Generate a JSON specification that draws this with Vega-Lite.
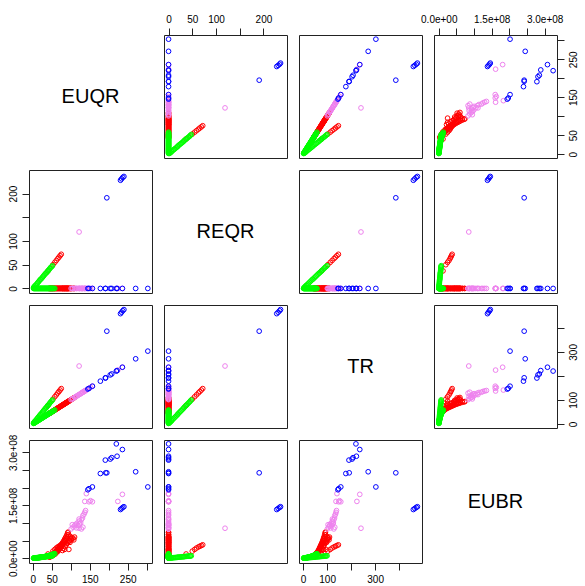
{
"$schema":"https://vega.github.io/schema/vega-lite/v6.json",
"background":"white",
"padding":{"left":7,"top":13,"right":5,"bottom":5},
"datasets":{"pts":[
{"grp":"red","EUQR":42,"REQR":0,"TR":42,"EUBR":4000000},
{"grp":"red","EUQR":44,"REQR":0,"TR":44,"EUBR":6000000},
{"grp":"red","EUQR":45,"REQR":0,"TR":45,"EUBR":3000000},
{"grp":"red","EUQR":46,"REQR":0,"TR":46,"EUBR":8000000},
{"grp":"red","EUQR":47,"REQR":0,"TR":47,"EUBR":5000000},
{"grp":"red","EUQR":48,"REQR":0,"TR":48,"EUBR":7000000},
{"grp":"red","EUQR":49,"REQR":0,"TR":49,"EUBR":10000000},
{"grp":"red","EUQR":50,"REQR":0,"TR":50,"EUBR":6000000},
{"grp":"red","EUQR":51,"REQR":0,"TR":51,"EUBR":9000000},
{"grp":"red","EUQR":52,"REQR":0,"TR":52,"EUBR":12000000},
{"grp":"red","EUQR":53,"REQR":0,"TR":53,"EUBR":8000000},
{"grp":"red","EUQR":54,"REQR":0,"TR":54,"EUBR":11000000},
{"grp":"red","EUQR":55,"REQR":0,"TR":55,"EUBR":14000000},
{"grp":"red","EUQR":56,"REQR":0,"TR":56,"EUBR":10000000},
{"grp":"red","EUQR":57,"REQR":0,"TR":57,"EUBR":13000000},
{"grp":"red","EUQR":58,"REQR":0,"TR":58,"EUBR":16000000},
{"grp":"red","EUQR":59,"REQR":0,"TR":59,"EUBR":12000000},
{"grp":"red","EUQR":60,"REQR":0,"TR":60,"EUBR":18000000},
{"grp":"red","EUQR":61,"REQR":0,"TR":61,"EUBR":15000000},
{"grp":"red","EUQR":62,"REQR":0,"TR":62,"EUBR":20000000},
{"grp":"red","EUQR":63,"REQR":0,"TR":63,"EUBR":17000000},
{"grp":"red","EUQR":64,"REQR":0,"TR":64,"EUBR":22000000},
{"grp":"red","EUQR":65,"REQR":0,"TR":65,"EUBR":19000000},
{"grp":"red","EUQR":66,"REQR":0,"TR":66,"EUBR":25000000},
{"grp":"red","EUQR":67,"REQR":0,"TR":67,"EUBR":21000000},
{"grp":"red","EUQR":68,"REQR":0,"TR":68,"EUBR":28000000},
{"grp":"red","EUQR":69,"REQR":0,"TR":69,"EUBR":24000000},
{"grp":"red","EUQR":70,"REQR":0,"TR":70,"EUBR":31000000},
{"grp":"red","EUQR":71,"REQR":0,"TR":71,"EUBR":27000000},
{"grp":"red","EUQR":72,"REQR":0,"TR":72,"EUBR":34000000},
{"grp":"red","EUQR":73,"REQR":0,"TR":73,"EUBR":30000000},
{"grp":"red","EUQR":74,"REQR":0,"TR":74,"EUBR":37000000},
{"grp":"red","EUQR":75,"REQR":0,"TR":75,"EUBR":33000000},
{"grp":"red","EUQR":76,"REQR":0,"TR":76,"EUBR":40000000},
{"grp":"red","EUQR":77,"REQR":0,"TR":77,"EUBR":36000000},
{"grp":"red","EUQR":78,"REQR":0,"TR":78,"EUBR":43000000},
{"grp":"red","EUQR":79,"REQR":0,"TR":79,"EUBR":39000000},
{"grp":"red","EUQR":80,"REQR":0,"TR":80,"EUBR":46000000},
{"grp":"red","EUQR":81,"REQR":0,"TR":81,"EUBR":42000000},
{"grp":"red","EUQR":82,"REQR":0,"TR":82,"EUBR":50000000},
{"grp":"red","EUQR":83,"REQR":0,"TR":83,"EUBR":45000000},
{"grp":"red","EUQR":84,"REQR":0,"TR":84,"EUBR":54000000},
{"grp":"red","EUQR":85,"REQR":0,"TR":85,"EUBR":48000000},
{"grp":"red","EUQR":86,"REQR":0,"TR":86,"EUBR":58000000},
{"grp":"red","EUQR":87,"REQR":0,"TR":87,"EUBR":52000000},
{"grp":"red","EUQR":88,"REQR":0,"TR":88,"EUBR":62000000},
{"grp":"red","EUQR":89,"REQR":0,"TR":89,"EUBR":56000000},
{"grp":"red","EUQR":90,"REQR":0,"TR":90,"EUBR":67000000},
{"grp":"red","EUQR":91,"REQR":0,"TR":91,"EUBR":60000000},
{"grp":"red","EUQR":92,"REQR":0,"TR":92,"EUBR":72000000},
{"grp":"red","EUQR":93,"REQR":0,"TR":93,"EUBR":74000000},
{"grp":"red","EUQR":95,"REQR":0,"TR":95,"EUBR":25000000},
{"grp":"red","EUQR":97,"REQR":0,"TR":97,"EUBR":50000000},
{"grp":"red","EUQR":100,"REQR":0,"TR":100,"EUBR":55000000},
{"grp":"red","EUQR":103,"REQR":0,"TR":103,"EUBR":58000000},
{"grp":"red","EUQR":106,"REQR":0,"TR":106,"EUBR":57000000},
{"grp":"red","EUQR":110,"REQR":0,"TR":110,"EUBR":60000000},
{"grp":"red","EUQR":108,"REQR":0,"TR":108,"EUBR":52000000},
{"grp":"red","EUQR":99,"REQR":0,"TR":99,"EUBR":62000000},
{"grp":"red","EUQR":94,"REQR":0,"TR":94,"EUBR":66000000},
{"grp":"red","EUQR":80,"REQR":0,"TR":80,"EUBR":28000000},
{"grp":"red","EUQR":85,"REQR":0,"TR":85,"EUBR":33000000},
{"grp":"red","EUQR":88,"REQR":0,"TR":88,"EUBR":38000000},
{"grp":"red","EUQR":90,"REQR":0,"TR":90,"EUBR":42000000},
{"grp":"red","EUQR":84,"REQR":0,"TR":84,"EUBR":25000000},
{"grp":"red","EUQR":78,"REQR":0,"TR":78,"EUBR":22000000},
{"grp":"red","EUQR":92,"REQR":0,"TR":92,"EUBR":45000000},
{"grp":"red","EUQR":95,"REQR":0,"TR":95,"EUBR":48000000},
{"grp":"red","EUQR":98,"REQR":0,"TR":98,"EUBR":45000000},
{"grp":"red","EUQR":102,"REQR":0,"TR":102,"EUBR":52000000},
{"grp":"red","EUQR":40,"REQR":37,"TR":77,"EUBR":12000000},
{"grp":"red","EUQR":53,"REQR":50,"TR":103,"EUBR":20000000},
{"grp":"red","EUQR":58,"REQR":55,"TR":113,"EUBR":25000000},
{"grp":"red","EUQR":62,"REQR":59,"TR":121,"EUBR":29000000},
{"grp":"red","EUQR":66,"REQR":63,"TR":129,"EUBR":32000000},
{"grp":"red","EUQR":69,"REQR":66,"TR":135,"EUBR":34000000},
{"grp":"red","EUQR":72,"REQR":69,"TR":141,"EUBR":36000000},
{"grp":"red","EUQR":75,"REQR":72,"TR":147,"EUBR":38000000},
{"grp":"violet","EUQR":141,"REQR":0,"TR":141,"EUBR":183000000},
{"grp":"violet","EUQR":137,"REQR":0,"TR":137,"EUBR":161000000},
{"grp":"violet","EUQR":148,"REQR":0,"TR":148,"EUBR":160000000},
{"grp":"violet","EUQR":152,"REQR":0,"TR":152,"EUBR":163000000},
{"grp":"violet","EUQR":157,"REQR":0,"TR":157,"EUBR":160000000},
{"grp":"violet","EUQR":139,"REQR":0,"TR":139,"EUBR":135000000},
{"grp":"violet","EUQR":137,"REQR":0,"TR":137,"EUBR":130000000},
{"grp":"violet","EUQR":132,"REQR":0,"TR":132,"EUBR":121000000},
{"grp":"violet","EUQR":131,"REQR":0,"TR":131,"EUBR":114000000},
{"grp":"violet","EUQR":128,"REQR":0,"TR":128,"EUBR":109000000},
{"grp":"violet","EUQR":122,"REQR":0,"TR":122,"EUBR":105000000},
{"grp":"violet","EUQR":123,"REQR":0,"TR":123,"EUBR":97000000},
{"grp":"violet","EUQR":116,"REQR":0,"TR":116,"EUBR":99000000},
{"grp":"violet","EUQR":110,"REQR":0,"TR":110,"EUBR":92000000},
{"grp":"violet","EUQR":106,"REQR":0,"TR":106,"EUBR":88000000},
{"grp":"violet","EUQR":104,"REQR":0,"TR":104,"EUBR":95000000},
{"grp":"violet","EUQR":115,"REQR":0,"TR":115,"EUBR":86000000},
{"grp":"violet","EUQR":128,"REQR":0,"TR":128,"EUBR":83000000},
{"grp":"violet","EUQR":132,"REQR":0,"TR":132,"EUBR":88000000},
{"grp":"violet","EUQR":101,"REQR":0,"TR":101,"EUBR":83000000},
{"grp":"violet","EUQR":122,"REQR":0,"TR":122,"EUBR":111000000},
{"grp":"violet","EUQR":126,"REQR":0,"TR":126,"EUBR":100000000},
{"grp":"violet","EUQR":119,"REQR":0,"TR":119,"EUBR":93000000},
{"grp":"violet","EUQR":112,"REQR":0,"TR":112,"EUBR":95000000},
{"grp":"violet","EUQR":135,"REQR":0,"TR":135,"EUBR":125000000},
{"grp":"violet","EUQR":224,"REQR":0,"TR":224,"EUBR":161000000},
{"grp":"violet","EUQR":236,"REQR":0,"TR":236,"EUBR":181000000},
{"grp":"violet","EUQR":122,"REQR":119,"TR":241,"EUBR":85000000},
{"grp":"blue","EUQR":220,"REQR":0,"TR":220,"EUBR":324000000},
{"grp":"blue","EUQR":236,"REQR":0,"TR":236,"EUBR":308000000},
{"grp":"blue","EUQR":222,"REQR":0,"TR":222,"EUBR":289000000},
{"grp":"blue","EUQR":208,"REQR":0,"TR":208,"EUBR":285000000},
{"grp":"blue","EUQR":204,"REQR":0,"TR":204,"EUBR":281000000},
{"grp":"blue","EUQR":191,"REQR":0,"TR":191,"EUBR":278000000},
{"grp":"blue","EUQR":178,"REQR":0,"TR":178,"EUBR":240000000},
{"grp":"blue","EUQR":192,"REQR":0,"TR":192,"EUBR":242000000},
{"grp":"blue","EUQR":195,"REQR":191,"TR":386,"EUBR":242000000},
{"grp":"blue","EUQR":271,"REQR":0,"TR":271,"EUBR":245000000},
{"grp":"blue","EUQR":303,"REQR":0,"TR":303,"EUBR":202000000},
{"grp":"blue","EUQR":157,"REQR":0,"TR":157,"EUBR":202000000},
{"grp":"blue","EUQR":145,"REQR":0,"TR":145,"EUBR":194000000},
{"grp":"blue","EUQR":148,"REQR":0,"TR":148,"EUBR":197000000},
{"grp":"blue","EUQR":231,"REQR":228,"TR":459,"EUBR":138000000},
{"grp":"blue","EUQR":234,"REQR":231,"TR":465,"EUBR":141000000},
{"grp":"blue","EUQR":237,"REQR":234,"TR":471,"EUBR":144000000},
{"grp":"blue","EUQR":240,"REQR":236,"TR":476,"EUBR":146000000},
{"grp":"green","EUQR":2,"REQR":0,"TR":2,"EUBR":300000},
{"grp":"green","EUQR":3,"REQR":0,"TR":3,"EUBR":500000},
{"grp":"green","EUQR":4,"REQR":0,"TR":4,"EUBR":400000},
{"grp":"green","EUQR":5,"REQR":0,"TR":5,"EUBR":700000},
{"grp":"green","EUQR":6,"REQR":0,"TR":6,"EUBR":600000},
{"grp":"green","EUQR":7,"REQR":0,"TR":7,"EUBR":900000},
{"grp":"green","EUQR":8,"REQR":0,"TR":8,"EUBR":1000000},
{"grp":"green","EUQR":9,"REQR":0,"TR":9,"EUBR":800000},
{"grp":"green","EUQR":10,"REQR":0,"TR":10,"EUBR":1200000},
{"grp":"green","EUQR":11,"REQR":0,"TR":11,"EUBR":1400000},
{"grp":"green","EUQR":12,"REQR":0,"TR":12,"EUBR":1100000},
{"grp":"green","EUQR":13,"REQR":0,"TR":13,"EUBR":1600000},
{"grp":"green","EUQR":14,"REQR":0,"TR":14,"EUBR":1500000},
{"grp":"green","EUQR":15,"REQR":0,"TR":15,"EUBR":1800000},
{"grp":"green","EUQR":16,"REQR":0,"TR":16,"EUBR":2000000},
{"grp":"green","EUQR":17,"REQR":0,"TR":17,"EUBR":1700000},
{"grp":"green","EUQR":18,"REQR":0,"TR":18,"EUBR":2300000},
{"grp":"green","EUQR":19,"REQR":0,"TR":19,"EUBR":2100000},
{"grp":"green","EUQR":20,"REQR":0,"TR":20,"EUBR":2600000},
{"grp":"green","EUQR":21,"REQR":0,"TR":21,"EUBR":2400000},
{"grp":"green","EUQR":22,"REQR":0,"TR":22,"EUBR":2900000},
{"grp":"green","EUQR":23,"REQR":0,"TR":23,"EUBR":2700000},
{"grp":"green","EUQR":24,"REQR":0,"TR":24,"EUBR":3200000},
{"grp":"green","EUQR":25,"REQR":0,"TR":25,"EUBR":3000000},
{"grp":"green","EUQR":26,"REQR":0,"TR":26,"EUBR":3600000},
{"grp":"green","EUQR":27,"REQR":0,"TR":27,"EUBR":3300000},
{"grp":"green","EUQR":28,"REQR":0,"TR":28,"EUBR":4000000},
{"grp":"green","EUQR":29,"REQR":0,"TR":29,"EUBR":3700000},
{"grp":"green","EUQR":30,"REQR":0,"TR":30,"EUBR":4400000},
{"grp":"green","EUQR":31,"REQR":0,"TR":31,"EUBR":4100000},
{"grp":"green","EUQR":32,"REQR":0,"TR":32,"EUBR":4800000},
{"grp":"green","EUQR":33,"REQR":0,"TR":33,"EUBR":4500000},
{"grp":"green","EUQR":34,"REQR":0,"TR":34,"EUBR":5300000},
{"grp":"green","EUQR":35,"REQR":0,"TR":35,"EUBR":4900000},
{"grp":"green","EUQR":36,"REQR":0,"TR":36,"EUBR":5800000},
{"grp":"green","EUQR":37,"REQR":0,"TR":37,"EUBR":5400000},
{"grp":"green","EUQR":38,"REQR":0,"TR":38,"EUBR":6300000},
{"grp":"green","EUQR":39,"REQR":0,"TR":39,"EUBR":5900000},
{"grp":"green","EUQR":40,"REQR":0,"TR":40,"EUBR":6800000},
{"grp":"green","EUQR":41,"REQR":0,"TR":41,"EUBR":6400000},
{"grp":"green","EUQR":42,"REQR":0,"TR":42,"EUBR":7400000},
{"grp":"green","EUQR":43,"REQR":0,"TR":43,"EUBR":7000000},
{"grp":"green","EUQR":44,"REQR":0,"TR":44,"EUBR":8000000},
{"grp":"green","EUQR":45,"REQR":0,"TR":45,"EUBR":7600000},
{"grp":"green","EUQR":46,"REQR":0,"TR":46,"EUBR":8700000},
{"grp":"green","EUQR":47,"REQR":0,"TR":47,"EUBR":8200000},
{"grp":"green","EUQR":48,"REQR":0,"TR":48,"EUBR":9400000},
{"grp":"green","EUQR":49,"REQR":0,"TR":49,"EUBR":8900000},
{"grp":"green","EUQR":50,"REQR":0,"TR":50,"EUBR":10200000},
{"grp":"green","EUQR":51,"REQR":0,"TR":51,"EUBR":9600000},
{"grp":"green","EUQR":52,"REQR":0,"TR":52,"EUBR":11000000},
{"grp":"green","EUQR":53,"REQR":0,"TR":53,"EUBR":10400000},
{"grp":"green","EUQR":55,"REQR":0,"TR":55,"EUBR":12000000},
{"grp":"green","EUQR":56,"REQR":0,"TR":56,"EUBR":11500000},
{"grp":"green","EUQR":58,"REQR":0,"TR":58,"EUBR":13000000},
{"grp":"green","EUQR":2,"REQR":2,"TR":4,"EUBR":300000},
{"grp":"green","EUQR":4,"REQR":4,"TR":8,"EUBR":500000},
{"grp":"green","EUQR":6,"REQR":6,"TR":12,"EUBR":800000},
{"grp":"green","EUQR":8,"REQR":7,"TR":15,"EUBR":1000000},
{"grp":"green","EUQR":10,"REQR":9,"TR":19,"EUBR":1300000},
{"grp":"green","EUQR":12,"REQR":11,"TR":23,"EUBR":1600000},
{"grp":"green","EUQR":14,"REQR":13,"TR":27,"EUBR":1800000},
{"grp":"green","EUQR":16,"REQR":15,"TR":31,"EUBR":2100000},
{"grp":"green","EUQR":18,"REQR":17,"TR":35,"EUBR":2300000},
{"grp":"green","EUQR":20,"REQR":19,"TR":39,"EUBR":2600000},
{"grp":"green","EUQR":22,"REQR":20,"TR":42,"EUBR":2900000},
{"grp":"green","EUQR":24,"REQR":22,"TR":46,"EUBR":3100000},
{"grp":"green","EUQR":26,"REQR":24,"TR":50,"EUBR":3400000},
{"grp":"green","EUQR":28,"REQR":26,"TR":54,"EUBR":3600000},
{"grp":"green","EUQR":30,"REQR":28,"TR":58,"EUBR":3900000},
{"grp":"green","EUQR":32,"REQR":30,"TR":62,"EUBR":4200000},
{"grp":"green","EUQR":34,"REQR":32,"TR":66,"EUBR":4400000},
{"grp":"green","EUQR":36,"REQR":33,"TR":69,"EUBR":4700000},
{"grp":"green","EUQR":38,"REQR":35,"TR":73,"EUBR":4900000},
{"grp":"green","EUQR":40,"REQR":37,"TR":77,"EUBR":5200000},
{"grp":"green","EUQR":42,"REQR":39,"TR":81,"EUBR":5500000},
{"grp":"green","EUQR":44,"REQR":41,"TR":85,"EUBR":5700000},
{"grp":"green","EUQR":46,"REQR":43,"TR":89,"EUBR":6000000},
{"grp":"green","EUQR":48,"REQR":45,"TR":93,"EUBR":6200000},
{"grp":"green","EUQR":50,"REQR":46,"TR":96,"EUBR":6500000},
{"grp":"green","EUQR":52,"REQR":48,"TR":100,"EUBR":6800000}
]},
"columns":4,
"spacing":12,
"bounds":"flush",
"resolve":{"scale":{"x":"independent","y":"independent","color":"shared"}},
"concat":[
{"width":123,"height":123,"data":{"values":[{"label":"EUQR"}]},"mark":{"type":"text","fontSize":20,"font":"Liberation Sans","color":"#000"},"encoding":{"text":{"field":"label","type":"nominal"}}},
{"width":123,"height":123,"data":{"name":"pts"},"mark":{"type":"point","shape":"circle","filled":false,"size":22,"strokeWidth":1,"opacity":1},
 "encoding":{"x":{"field":"REQR","type":"quantitative","scale":{"domain":[-9.6,249.6],"nice":false,"zero":false},"axis":{"orient":"top","values":[0,50,100,150,200],"labelExpr":"datum.value==150?'':datum.label"}},
 "y":{"field":"EUQR","type":"quantitative","scale":{"domain":[-10,314],"nice":false,"zero":false},"axis":null},
 "color":{"field":"grp","type":"nominal","scale":{"domain":["red","violet","blue","green"],"range":["#FF0000","#EE82EE","#0000FF","#00FF00"]},"legend":null}}},
{"width":123,"height":123,"data":{"name":"pts"},"mark":{"type":"point","shape":"circle","filled":false,"size":22,"strokeWidth":1,"opacity":1},
 "encoding":{"x":{"field":"TR","type":"quantitative","scale":{"domain":[-17,495],"nice":false,"zero":false},"axis":null},
 "y":{"field":"EUQR","type":"quantitative","scale":{"domain":[-10,314],"nice":false,"zero":false},"axis":null},
 "color":{"field":"grp","type":"nominal","scale":{"domain":["red","violet","blue","green"],"range":["#FF0000","#EE82EE","#0000FF","#00FF00"]},"legend":null}}},
{"width":123,"height":123,"data":{"name":"pts"},"mark":{"type":"point","shape":"circle","filled":false,"size":22,"strokeWidth":1,"opacity":1},
 "encoding":{"x":{"field":"EUBR","type":"quantitative","scale":{"domain":[-13500000,335000000],"nice":false,"zero":false},"axis":{"orient":"top","values":[0,50000000,100000000,150000000,200000000,250000000,300000000],"labelExpr":"datum.value==0?'0.0e+00':datum.value==150000000?'1.5e+08':datum.value==300000000?'3.0e+08':''"}},
 "y":{"field":"EUQR","type":"quantitative","scale":{"domain":[-10,314],"nice":false,"zero":false},"axis":{"orient":"right","values":[0,50,100,150,200,250,300],"labelExpr":"datum.value==0||datum.value==50||datum.value==150||datum.value==250?datum.label:''","labelAngle":270,"labelAlign":"center","labelBaseline":"top"}},
 "color":{"field":"grp","type":"nominal","scale":{"domain":["red","violet","blue","green"],"range":["#FF0000","#EE82EE","#0000FF","#00FF00"]},"legend":null}}},

{"width":123,"height":123,"data":{"name":"pts"},"mark":{"type":"point","shape":"circle","filled":false,"size":22,"strokeWidth":1,"opacity":1},
 "encoding":{"x":{"field":"EUQR","type":"quantitative","scale":{"domain":[-10,314],"nice":false,"zero":false},"axis":null},
 "y":{"field":"REQR","type":"quantitative","scale":{"domain":[-9.6,249.6],"nice":false,"zero":false},"axis":{"orient":"left","values":[0,50,100,150,200],"labelExpr":"datum.value==150?'':datum.label","labelAngle":270,"labelAlign":"center","labelBaseline":"bottom"}},
 "color":{"field":"grp","type":"nominal","scale":{"domain":["red","violet","blue","green"],"range":["#FF0000","#EE82EE","#0000FF","#00FF00"]},"legend":null}}},
{"width":123,"height":123,"data":{"values":[{"label":"REQR"}]},"mark":{"type":"text","fontSize":20,"font":"Liberation Sans","color":"#000"},"encoding":{"text":{"field":"label","type":"nominal"}}},
{"width":123,"height":123,"data":{"name":"pts"},"mark":{"type":"point","shape":"circle","filled":false,"size":22,"strokeWidth":1,"opacity":1},
 "encoding":{"x":{"field":"TR","type":"quantitative","scale":{"domain":[-17,495],"nice":false,"zero":false},"axis":null},
 "y":{"field":"REQR","type":"quantitative","scale":{"domain":[-9.6,249.6],"nice":false,"zero":false},"axis":null},
 "color":{"field":"grp","type":"nominal","scale":{"domain":["red","violet","blue","green"],"range":["#FF0000","#EE82EE","#0000FF","#00FF00"]},"legend":null}}},
{"width":123,"height":123,"data":{"name":"pts"},"mark":{"type":"point","shape":"circle","filled":false,"size":22,"strokeWidth":1,"opacity":1},
 "encoding":{"x":{"field":"EUBR","type":"quantitative","scale":{"domain":[-13500000,335000000],"nice":false,"zero":false},"axis":null},
 "y":{"field":"REQR","type":"quantitative","scale":{"domain":[-9.6,249.6],"nice":false,"zero":false},"axis":null},
 "color":{"field":"grp","type":"nominal","scale":{"domain":["red","violet","blue","green"],"range":["#FF0000","#EE82EE","#0000FF","#00FF00"]},"legend":null}}},

{"width":123,"height":123,"data":{"name":"pts"},"mark":{"type":"point","shape":"circle","filled":false,"size":22,"strokeWidth":1,"opacity":1},
 "encoding":{"x":{"field":"EUQR","type":"quantitative","scale":{"domain":[-10,314],"nice":false,"zero":false},"axis":null},
 "y":{"field":"TR","type":"quantitative","scale":{"domain":[-17,495],"nice":false,"zero":false},"axis":null},
 "color":{"field":"grp","type":"nominal","scale":{"domain":["red","violet","blue","green"],"range":["#FF0000","#EE82EE","#0000FF","#00FF00"]},"legend":null}}},
{"width":123,"height":123,"data":{"name":"pts"},"mark":{"type":"point","shape":"circle","filled":false,"size":22,"strokeWidth":1,"opacity":1},
 "encoding":{"x":{"field":"REQR","type":"quantitative","scale":{"domain":[-9.6,249.6],"nice":false,"zero":false},"axis":null},
 "y":{"field":"TR","type":"quantitative","scale":{"domain":[-17,495],"nice":false,"zero":false},"axis":null},
 "color":{"field":"grp","type":"nominal","scale":{"domain":["red","violet","blue","green"],"range":["#FF0000","#EE82EE","#0000FF","#00FF00"]},"legend":null}}},
{"width":123,"height":123,"data":{"values":[{"label":"TR"}]},"mark":{"type":"text","fontSize":20,"font":"Liberation Sans","color":"#000"},"encoding":{"text":{"field":"label","type":"nominal"}}},
{"width":123,"height":123,"data":{"name":"pts"},"mark":{"type":"point","shape":"circle","filled":false,"size":22,"strokeWidth":1,"opacity":1},
 "encoding":{"x":{"field":"EUBR","type":"quantitative","scale":{"domain":[-13500000,335000000],"nice":false,"zero":false},"axis":null},
 "y":{"field":"TR","type":"quantitative","scale":{"domain":[-17,495],"nice":false,"zero":false},"axis":{"orient":"right","values":[0,100,200,300,400],"labelExpr":"datum.value==0||datum.value==100||datum.value==300?datum.label:''","labelAngle":270,"labelAlign":"center","labelBaseline":"top"}},
 "color":{"field":"grp","type":"nominal","scale":{"domain":["red","violet","blue","green"],"range":["#FF0000","#EE82EE","#0000FF","#00FF00"]},"legend":null}}},

{"width":123,"height":123,"data":{"name":"pts"},"mark":{"type":"point","shape":"circle","filled":false,"size":22,"strokeWidth":1,"opacity":1},
 "encoding":{"x":{"field":"EUQR","type":"quantitative","scale":{"domain":[-10,314],"nice":false,"zero":false},"axis":{"orient":"bottom","values":[0,50,100,150,200,250,300],"labelExpr":"datum.value==0||datum.value==50||datum.value==150||datum.value==250?datum.label:''"}},
 "y":{"field":"EUBR","type":"quantitative","scale":{"domain":[-13500000,335000000],"nice":false,"zero":false},"axis":{"orient":"left","values":[0,50000000,100000000,150000000,200000000,250000000,300000000],"labelExpr":"datum.value==0?'0.0e+00':datum.value==150000000?'1.5e+08':datum.value==300000000?'3.0e+08':''","labelAngle":270,"labelAlign":"center","labelBaseline":"bottom"}},
 "color":{"field":"grp","type":"nominal","scale":{"domain":["red","violet","blue","green"],"range":["#FF0000","#EE82EE","#0000FF","#00FF00"]},"legend":null}}},
{"width":123,"height":123,"data":{"name":"pts"},"mark":{"type":"point","shape":"circle","filled":false,"size":22,"strokeWidth":1,"opacity":1},
 "encoding":{"x":{"field":"REQR","type":"quantitative","scale":{"domain":[-9.6,249.6],"nice":false,"zero":false},"axis":null},
 "y":{"field":"EUBR","type":"quantitative","scale":{"domain":[-13500000,335000000],"nice":false,"zero":false},"axis":null},
 "color":{"field":"grp","type":"nominal","scale":{"domain":["red","violet","blue","green"],"range":["#FF0000","#EE82EE","#0000FF","#00FF00"]},"legend":null}}},
{"width":123,"height":123,"data":{"name":"pts"},"mark":{"type":"point","shape":"circle","filled":false,"size":22,"strokeWidth":1,"opacity":1},
 "encoding":{"x":{"field":"TR","type":"quantitative","scale":{"domain":[-17,495],"nice":false,"zero":false},"axis":{"orient":"bottom","values":[0,100,200,300,400],"labelExpr":"datum.value==0||datum.value==100||datum.value==300?datum.label:''"}},
 "y":{"field":"EUBR","type":"quantitative","scale":{"domain":[-13500000,335000000],"nice":false,"zero":false},"axis":null},
 "color":{"field":"grp","type":"nominal","scale":{"domain":["red","violet","blue","green"],"range":["#FF0000","#EE82EE","#0000FF","#00FF00"]},"legend":null}}},
{"width":123,"height":123,"data":{"values":[{"label":"EUBR"}]},"mark":{"type":"text","fontSize":20,"font":"Liberation Sans","color":"#000"},"encoding":{"text":{"field":"label","type":"nominal"}}}
],
"config":{
 "view":{"stroke":"#222","strokeWidth":1},
 "axis":{"grid":false,"domain":false,"ticks":true,"tickColor":"#222","tickSize":7,"labelFont":"Liberation Sans","labelFontSize":10,"labelColor":"#000","labelPadding":4,"labelOverlap":false,"labelFlush":false,"title":null}
}
}
